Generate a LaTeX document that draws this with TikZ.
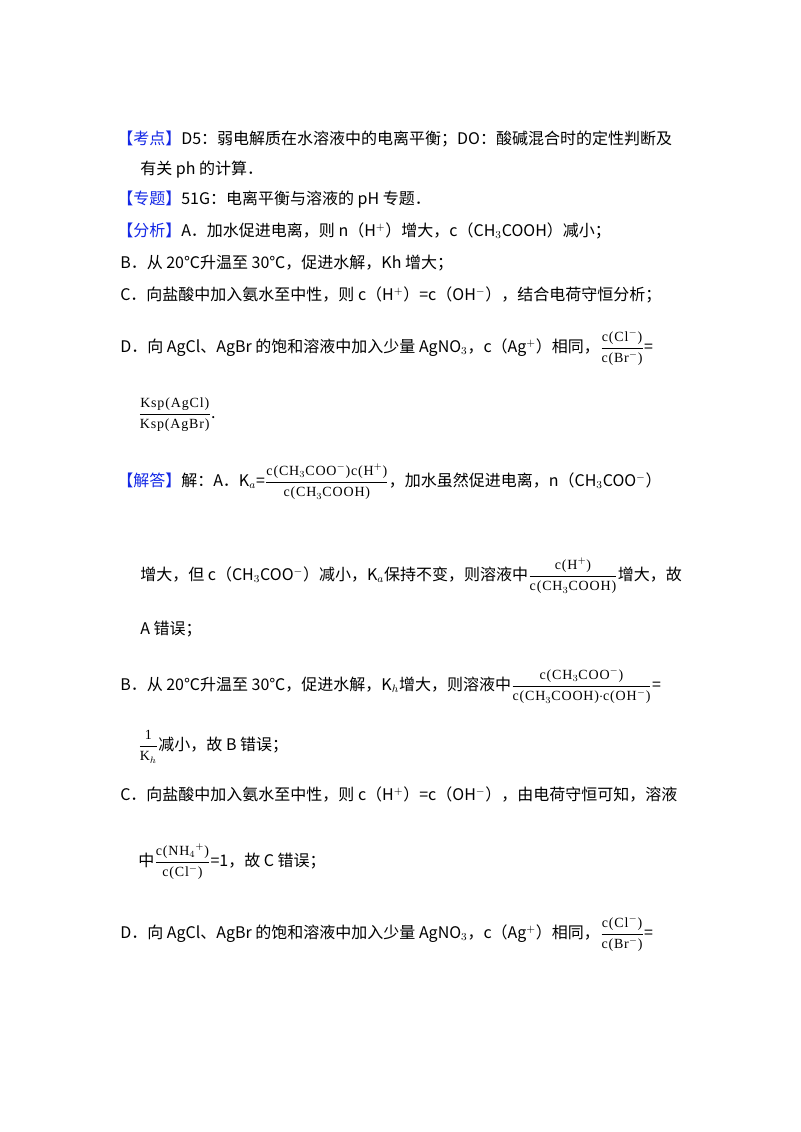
\documentclass[tikz,border=0pt]{standalone}
\usepackage{fontspec}
\setmainfont{Noto Sans CJK SC}
\newfontfamily\ser{Liberation Serif}[LetterSpace=6]
\newcommand{\fr}[2]{{$\displaystyle\frac{\hbox{\ser\fontsize{10.5}{11}\selectfont #1}}{\hbox{\ser\fontsize{10.5}{11}\selectfont #2}}$}}
\begin{document}
\begin{tikzpicture}[x=0.75pt,y=-0.75pt]
\tikzset{ln/.style={anchor=base west,inner sep=0pt,font=\fontsize{12}{13}\selectfont}}
\definecolor{blu}{RGB}{20,40,230}
\fill[white] (0,0) rectangle (800,1132);
\node[ln] (l1) at (117,144) {\textcolor{blu}{【考点】}D5：弱电解质在水溶液中的电离平衡；DO：酸碱混合时的定性判断及};
\node[ln] (l2) at (140,174) {有关 ph 的计算．};
\node[ln] (l3) at (117,204) {\textcolor{blu}{【专题】}51G：电离平衡与溶液的 pH 专题．};
\node[ln] (l4) at (117,236) {\textcolor{blu}{【分析】}A．加水促进电离，则 n（H$^{+}$）增大，c（CH$_3$COOH）减小；};
\node[ln] (l5) at (120,268) {B．从 20℃升温至 30℃，促进水解，Kh 增大；};
\node[ln] (l6) at (120,300) {C．向盐酸中加入氨水至中性，则 c（H$^{+}$）=c（OH$^{-}$），结合电荷守恒分析；};
\node[ln] (l7) at (120,352) {D．向 AgCl、AgBr 的饱和溶液中加入少量 AgNO$_3$，c（Ag$^{+}$）相同，\fr{c(Cl$^-$)}{c(Br$^-$)}=};
\node[ln] (l8) at (138,418) {\fr{Ksp(AgCl)}{Ksp(AgBr)}.};
\node[ln] (l9) at (117,486) {\textcolor{blu}{【解答】}解：A．K$_a$=\fr{c(CH$_3$COO$^-$)c(H$^+$)}{c(CH$_3$COOH)}，加水虽然促进电离，n（CH$_3$COO$^{-}$）};
\node[ln] (l10) at (140,580) {增大，但 c（CH$_3$COO$^{-}$）减小，K$_a$保持不变，则溶液中\fr{c(H$^+$)}{c(CH$_3$COOH)}增大，故};
\node[ln] (l11) at (140,634) {A 错误；};
\node[ln] (l12) at (120,690) {B．从 20℃升温至 30℃，促进水解，K$_h$增大，则溶液中\fr{c(CH$_3$COO$^-$)}{c(CH$_3$COOH)$\cdot$c(OH$^-$)}=};
\node[ln] (l13) at (138,750) {\fr{1}{K$_h$}减小，故 B 错误；};
\node[ln] (l14) at (120,800) {C．向盐酸中加入氨水至中性，则 c（H$^{+}$）=c（OH$^{-}$），由电荷守恒可知，溶液};
\node[ln] (l15) at (138,866) {中\fr{c(NH$_4{}^+$)}{c(Cl$^-$)}=1，故 C 错误；};
\node[ln] (l16) at (120,938) {D．向 AgCl、AgBr 的饱和溶液中加入少量 AgNO$_3$，c（Ag$^{+}$）相同，\fr{c(Cl$^-$)}{c(Br$^-$)}=};
\end{tikzpicture}
\end{document}
